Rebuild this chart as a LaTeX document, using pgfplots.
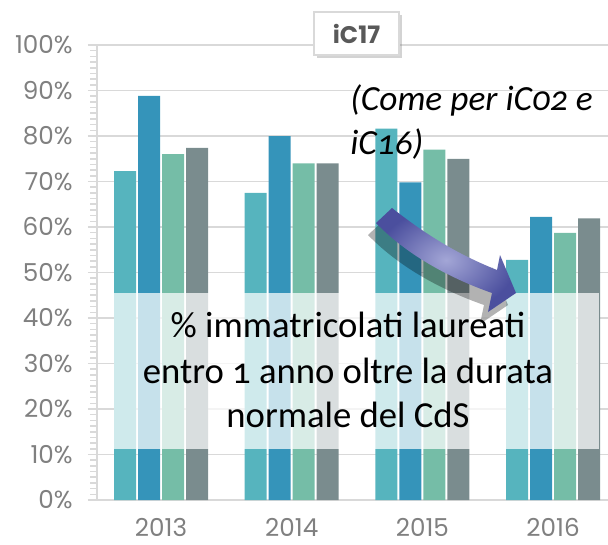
\documentclass[border=0pt]{standalone}
\usepackage{fontspec}
\setmainfont{Carlito}[Numbers=OldStyle]
\newfontfamily\gothic{Poppins}
\usepackage{pgfplots}
\usepackage{pgfplotstable}
\pgfplotsset{compat=1.18}
\usetikzlibrary{shadows}

\definecolor{cteal}{HTML}{56B4BE}
\definecolor{cblue}{HTML}{3594BA}
\definecolor{cgreen}{HTML}{75BDA7}
\definecolor{cgray}{HTML}{7A8C8E}
\definecolor{gridc}{HTML}{D9D9D9}
\definecolor{labc}{HTML}{808080}
\definecolor{arrowdark}{HTML}{4B4F9E}
\definecolor{arrowlight}{HTML}{A3A6D6}

% one row per year: four indicators
\pgfplotstableread{
x a b c d
0 72.3 88.8 76.0 77.4
1 67.5 80.0 74.0 74.0
2 81.6 69.8 77.0 75.0
3 52.8 62.2 58.7 61.9
}\datatable

\begin{document}
\begin{tikzpicture}
\begin{axis}[
  at={(0,0)}, anchor=south west,
  scale only axis, width=383.25pt, height=341.25pt,
  xmin=-0.49, xmax=3.42, ymin=0, ymax=100,
  ybar=1.5pt, bar width=16.5pt,
  axis x line*=bottom, axis y line*=left,
  axis line style={gridc, line width=1.2pt, -},
  xtick={0,1,2,3}, xticklabels={2013,2014,2015,2016},
  xtick style={draw=none},
  xticklabel style={inner sep=0pt, text depth=0pt, yshift=-6.5pt},
  ytick={0,10,...,100},
  yticklabel={\pgfmathprintnumber{\tick}\%},
  yticklabel style={xshift=-8pt},
  minor y tick num=7,
  ytick style={gridc, line width=1.2pt},
  tick align=outside,
  major tick length=6.75pt, minor tick length=5pt,
  ymajorgrids, major grid style={gridc, line width=1.1pt},
  tick label style={font=\gothic\fontsize{18.5}{21}\selectfont, text=labc},
  /pgf/number format/assume math mode=true,
]
\addplot[fill=cteal, draw=none] table[x=x, y=a]{\datatable};
\addplot[fill=cblue, draw=none] table[x=x, y=b]{\datatable};
\addplot[fill=cgreen, draw=none] table[x=x, y=c]{\datatable};
\addplot[fill=cgray, draw=none] table[x=x, y=d]{\datatable};
\end{axis}

% overlays, in pixel units of the 608x544 reference
\begin{scope}[x=0.75pt, y=-0.75pt, shift={(-72.75pt,375pt)}]
  \fill[white, fill opacity=0.72] (114,293) rectangle (599,449);
  \node[anchor=base, font=\fontsize{27.5}{33}\selectfont] at (348,337) {\% immatricolati laureati};
  \node[anchor=base, font=\fontsize{27.5}{33}\selectfont] at (348,383) {entro 1 anno oltre la durata};
  \node[anchor=base, font=\fontsize{27.5}{33}\selectfont] at (348,427) {normale del CdS};

  \node[anchor=base west, inner sep=0pt, font=\itshape\fontsize{26.5}{32}\selectfont] at (350,111) {(Come per iC02 e};
  \node[anchor=base west, inner sep=0pt, font=\itshape\fontsize{26.5}{32}\selectfont] at (350,155) {iC16)};

  \path[inner color=arrowlight, outer color=arrowdark,
        drop shadow={shadow xshift=-6pt, shadow yshift=-9pt, opacity=0.3, fill=black}]
    (392,208) .. controls (430,238) and (462,256) .. (497,270)
    -- (500,255) -- (516,293) -- (488,312) -- (492,293)
    .. controls (455,280) and (410,258) .. (376,223) -- cycle;

  \node[draw=gridc, fill=white, line width=0.8pt, minimum width=63.75pt, minimum height=32.25pt,
        drop shadow={shadow xshift=2pt, shadow yshift=-2.5pt, opacity=0.35},
        text=black!65, font=\gothic\bfseries\fontsize{18}{21}\selectfont] at (356.5,33.5) {iC17};
\end{scope}

\pgfresetboundingbox
\useasboundingbox (-72.75pt,375pt) rectangle (383.25pt,-33pt);
\end{tikzpicture}
\end{document}
